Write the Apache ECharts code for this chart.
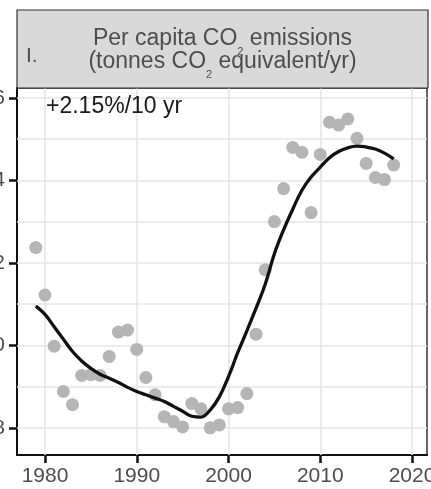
<!DOCTYPE html>
<html>
<head>
<meta charset="utf-8">
<script src="https://cdn.jsdelivr.net/npm/echarts@6/dist/echarts.min.js"></script>
<style>
  html, body { margin: 0; padding: 0; background: #fff; }
  #chart { width: 431px; height: 489px; }
</style>
</head>
<body>
<div id="chart"></div>
<script>
// Annual per-capita emissions, 1979-2018
const years = [1979, 1980, 1981, 1982, 1983, 1984, 1985, 1986, 1987, 1988,
               1989, 1990, 1991, 1992, 1993, 1994, 1995, 1996, 1997, 1998,
               1999, 2000, 2001, 2002, 2003, 2004, 2005, 2006, 2007, 2008,
               2009, 2010, 2011, 2012, 2013, 2014, 2015, 2016, 2017, 2018];

// observed yearly values (grey dots)
const observed = [6.237, 6.122, 5.998, 5.888, 5.856, 5.927, 5.929, 5.927, 5.973, 6.032,
                  6.037, 5.990, 5.922, 5.880, 5.827, 5.815, 5.802, 5.859, 5.846, 5.800,
                  5.807, 5.846, 5.849, 5.883, 6.027, 6.183, 6.300, 6.380, 6.480, 6.468,
                  6.322, 6.463, 6.541, 6.534, 6.549, 6.502, 6.441, 6.407, 6.402, 6.437];

// smoothed trend (black curve)
const trend = [6.095, 6.075, 6.045, 6.015, 5.985, 5.962, 5.944, 5.930, 5.920, 5.910,
               5.898, 5.888, 5.880, 5.872, 5.864, 5.852, 5.840, 5.828, 5.826, 5.843,
               5.875, 5.924, 5.982, 6.035, 6.090, 6.148, 6.222, 6.280, 6.330, 6.376,
               6.408, 6.432, 6.455, 6.470, 6.479, 6.483, 6.481, 6.476, 6.466, 6.452];

// axis ticks and grid lines
const xTicks = [1980, 1990, 2000, 2010, 2020];
const yTicks = [5.8, 6.0, 6.2, 6.4, 6.6];
const xGrid = [1980, 1990, 2000, 2010, 2020];
const yGrid = [5.8, 5.9, 6.0, 6.1, 6.2, 6.3, 6.4, 6.5, 6.6];

const panelLabel = 'I.';
const titleLines = [['Per capita CO', '2', ' emissions'],
                    ['(tonnes CO', '2', ' equivalent/yr)']];
const trendLabel = '+2.15%/10 yr';

const FONT = '"Liberation Sans", Arial, Helvetica, sans-serif';

const chart = echarts.init(document.getElementById('chart'), null, { renderer: 'canvas' });

const titleRich = titleLines
  .map(l => '{m|' + l[0] + '}{s|' + l[1] + '}{m|' + l[2] + '}')
  .join('\n');

const gridMarks = xGrid.map(v => ({ xAxis: v })).concat(yGrid.map(v => ({ yAxis: v })));

chart.setOption({
  animation: false,
  backgroundColor: '#fff',
  grid: {
    left: 17, right: 4, top: 88, bottom: 34,
    containLabel: false, outerBoundsMode: 'none',
    show: true, backgroundColor: '#fff',
    borderColor: '#333', borderWidth: 1.5
  },
  xAxis: {
    type: 'value',
    min: 1976.95, max: 2021.63,
    axisLine: { onZero: false, lineStyle: { color: '#111', width: 2 } },
    axisTick: { customValues: xTicks, length: 8, lineStyle: { color: '#111', width: 2.5 } },
    axisLabel: {
      customValues: xTicks, fontSize: 21, color: '#4d4d4d', margin: 11, fontFamily: FONT,
      formatter: v => String(v)
    },
    splitLine: { show: false }
  },
  yAxis: {
    type: 'value',
    min: 5.734, max: 6.624,
    axisLine: { show: true, onZero: false, lineStyle: { color: '#111', width: 2 } },
    axisTick: { show: true, customValues: yTicks, length: 8, lineStyle: { color: '#111', width: 2.5 } },
    axisLabel: {
      customValues: yTicks, fontSize: 21, color: '#4d4d4d', margin: 12, fontFamily: FONT,
      formatter: v => v.toFixed(1)
    },
    splitLine: { show: false }
  },
  graphic: [
    {
      type: 'rect', z: 10,
      shape: { x: 17, y: 10, width: 411, height: 78 },
      style: { fill: '#d9d9d9', stroke: '#333', lineWidth: 1.2 }
    },
    {
      type: 'text', z: 11, x: 26, y: 56,
      style: {
        text: panelLabel, fontSize: 21, fontFamily: FONT, fill: '#4d4d4d',
        align: 'left', verticalAlign: 'middle'
      }
    },
    {
      type: 'text', z: 11, x: 222.5, y: 27,
      style: {
        text: titleRich, align: 'center', verticalAlign: 'top',
        fontFamily: FONT, fontSize: 23, fill: '#4d4d4d', lineHeight: 23,
        rich: {
          m: { fontSize: 23, fontFamily: FONT, fill: '#4d4d4d', lineHeight: 23 },
          s: { fontSize: 11, fontFamily: FONT, fill: '#4d4d4d', lineHeight: 23, padding: [26, 0, 0, 0] }
        }
      }
    },
    {
      type: 'text', z: 11, x: 46, y: 107,
      style: {
        text: trendLabel, fontSize: 23, fontFamily: FONT, fill: '#1a1a1a',
        align: 'left', verticalAlign: 'middle'
      }
    }
  ],
  series: [
    {
      name: 'observed', type: 'scatter', z: 3,
      symbolSize: 13,
      itemStyle: { color: '#b5b5b5', opacity: 1 },
      data: years.map((y, i) => [y, observed[i]]),
      markLine: {
        z: 1, silent: true, symbol: 'none', animation: false,
        label: { show: false },
        lineStyle: { color: '#e6e6e6', width: 1.6, type: 'solid' },
        emphasis: { disabled: true },
        data: gridMarks
      }
    },
    {
      name: 'trend', type: 'line', z: 4,
      smooth: 0.4, showSymbol: false,
      lineStyle: { color: '#111', width: 3.3 },
      data: years.map((y, i) => [y, trend[i]])
    }
  ]
});
</script>
</body>
</html>
